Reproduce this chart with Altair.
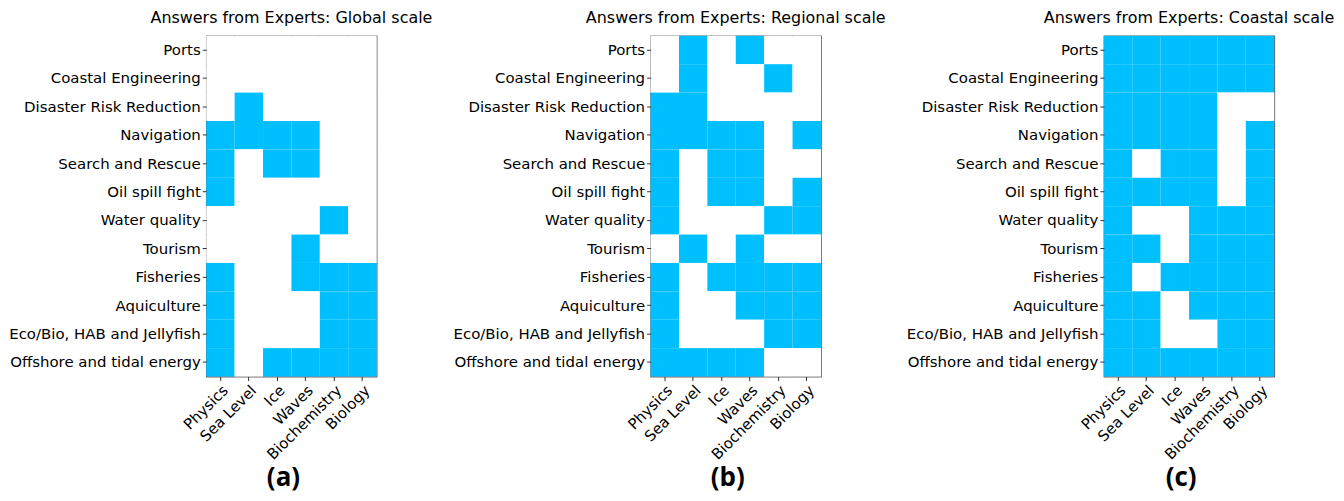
import altair as alt
import pandas as pd

sectors = ["Ports", "Coastal Engineering", "Disaster Risk Reduction", "Navigation",
           "Search and Rescue", "Oil spill fight", "Water quality", "Tourism",
           "Fisheries", "Aquiculture", "Eco/Bio, HAB and Jellyfish",
           "Offshore and tidal energy"]
variables = ["Physics", "Sea Level", "Ice", "Waves", "Biochemistry", "Biology"]

global_rows = ["000000", "000000", "010000", "111100", "101100", "100000",
               "000010", "000100", "100111", "100011", "100011", "101111"]
regional_rows = ["010100", "010010", "110000", "111101", "101100", "101101",
                 "100011", "010100", "101111", "100111", "100011", "111100"]
coastal_rows = ["111111", "111111", "111100", "111101", "101101", "111101",
                "100111", "110111", "101111", "110111", "110011", "111111"]

panels = [("Answers from Experts: Global scale", "(a)", global_rows),
          ("Answers from Experts: Regional scale", "(b)", regional_rows),
          ("Answers from Experts: Coastal scale", "(c)", coastal_rows)]

FONT = "DejaVu Sans"
BLUE = "#00BFFF"


def panel(title, letter, rows):
    recs = []
    for s, r in zip(sectors, rows):
        for v, c in zip(variables, r):
            recs.append({"sector": s, "variable": v, "val": c})
    df = pd.DataFrame(recs)
    return alt.Chart(df).mark_rect().encode(
        x=alt.X("variable:N", sort=variables,
                scale=alt.Scale(paddingInner=0, paddingOuter=0),
                axis=alt.Axis(title=letter, labelAngle=-45, labelFontSize=15,
                              labelFont=FONT, labelColor="black", labelLimit=0,
                              titleFont="Open Sans", titleFontSize=26, titleFontWeight="bold",
                              titleColor="black", titlePadding=2, titleX=77,
                              tickSize=4, tickColor="#333", domain=False,
                              labelPadding=2, grid=False)),
        y=alt.Y("sector:N", sort=sectors,
                scale=alt.Scale(paddingInner=0, paddingOuter=0),
                axis=alt.Axis(title=None, labelFontSize=15, labelFont=FONT,
                              labelColor="black", labelLimit=0, tickSize=4,
                              tickColor="#333", domain=False, labelPadding=2,
                              grid=False)),
        color=alt.Color("val:N", scale=alt.Scale(domain=["0", "1"], range=["white", BLUE]),
                        legend=None),
    ).properties(
        width=171, height=342,
        title=alt.TitleParams(title, font=FONT, fontSize=16, fontWeight="normal",
                              color="black", offset=10),
    )


pa, pb, pc = [panel(t, l, r) for t, l, r in panels]
chart = alt.hconcat(pa, pb, pc, spacing=19).configure_view(
    stroke="#666", strokeWidth=1.2
).properties(padding={"left": 0, "top": 0, "right": 0, "bottom": 0})

chart.save("out.html", embed_options={"renderer": "svg", "actions": False})
